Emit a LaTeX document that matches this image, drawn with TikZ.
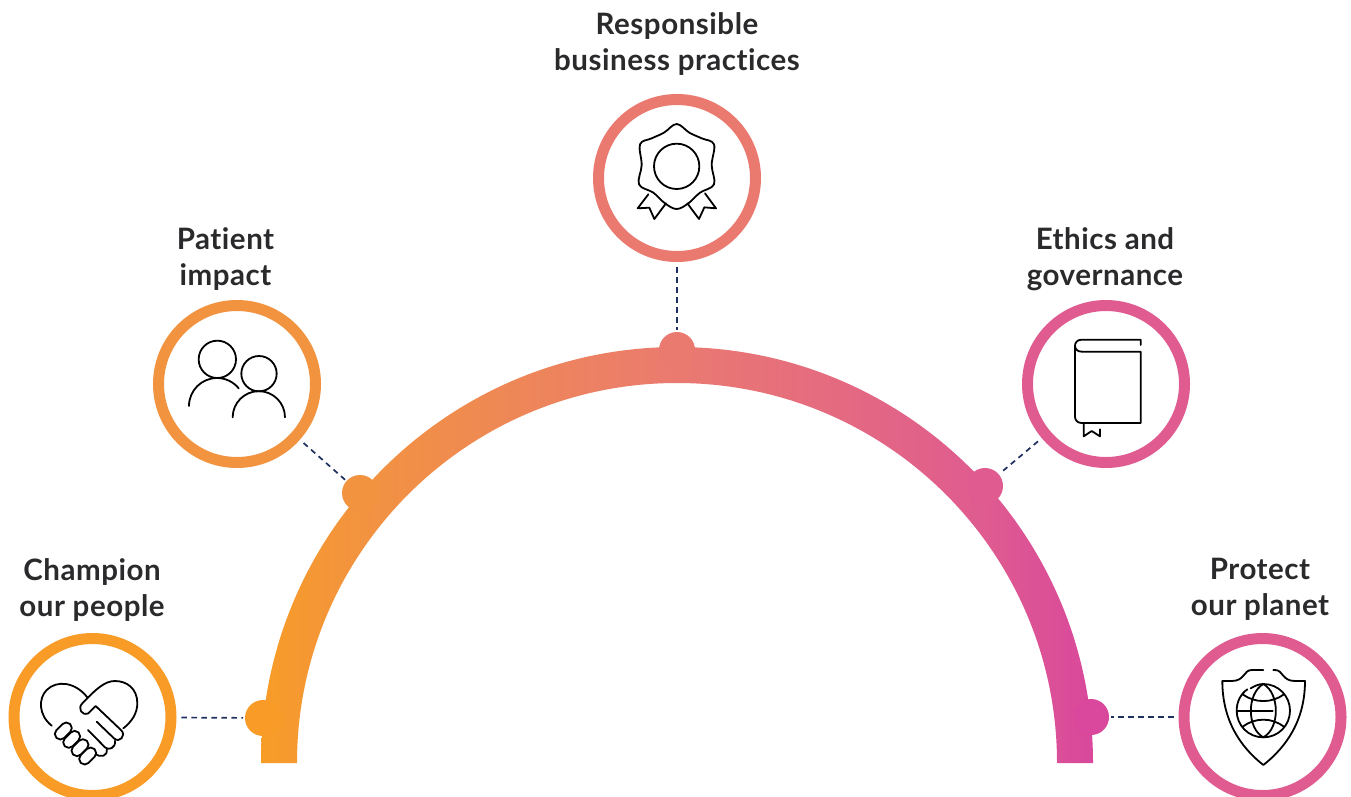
\documentclass[tikz,border=0pt]{standalone}
\usepackage{fontspec}
\setmainfont[LetterSpace=1.8,Ligatures=NoCommon]{Lato}
\tikzset{
  ring/.style={circle,draw=#1,line width=11pt,fill=white,minimum size=157pt,inner sep=0pt,outer sep=5.5pt},
  dotn/.style={circle,fill=#1,minimum size=36pt,inner sep=0pt,outer sep=0pt},
  conn/.style={draw=dashblue,line width=1.7pt,dash pattern=on 5.5pt off 4.5pt,shorten <=5pt,shorten >=2pt},
  lbl/.style={align=center,text=labelgrey,font=\fontsize{29.5}{36}\selectfont\bfseries,inner sep=0pt},
  ico/.style={draw=black,line width=1.8pt,line join=round,line cap=round}
}
\definecolor{dashblue}{HTML}{1F2F5F}
\definecolor{labelgrey}{HTML}{2A2A2C}
\definecolor{cA}{HTML}{F89C27}
\definecolor{cB}{HTML}{F29340}
\definecolor{cC}{HTML}{EA7A70}
\definecolor{cD}{HTML}{DF5B90}
\definecolor{cE}{HTML}{D9489C}
\pgfdeclarehorizontalshading{archgrad}{100bp}{color(0bp)=(cA); color(25bp)=(cA); color(31bp)=(cB); color(50bp)=(cC); color(68.5bp)=(cD); color(75bp)=(cE); color(100bp)=(cE)}
\newcommand{\capsule}[2]{\draw[ico,fill=white,rotate around={-45:(#1,#2)},rounded corners=5.3pt] (#1-29,#2-16.5) rectangle (#1+29,#2+16.5);}
\begin{document}
\begin{tikzpicture}[x=1pt,y=1pt,yscale=-1]
\useasboundingbox (0,0) rectangle (1351,796);
% arch
\shade[shading=archgrad]
  (261,763) arc[start angle=180,end angle=360,radius=416] -- (1057,763)
  arc[start angle=360,end angle=180,radius=380] -- cycle;
% dots
\node[dotn=cA] (d1) at (263,718) {};
\node[dotn=cB] (d2) at (360,493) {};
\node[dotn=cC] (d3) at (677,350) {};
\node[dotn=cD] (d4) at (985,486) {};
\node[dotn=cE] (d5) at (1091,717) {};
% rings
\node[ring=cA] (c1) at (92.5,717) {};
\node[ring=cB] (c2) at (237,384) {};
\node[ring=cC] (c3) at (677,178) {};
\node[ring=cD] (c4) at (1106,384) {};
\node[ring=cD] (c5) at (1262.5,717) {};
% connectors
\draw[conn] (c1) -- (d1);
\draw[conn] (c2) -- (d2);
\draw[conn] (c3) -- (d3);
\draw[conn] (c4) -- (d4);
\draw[conn] (c5) -- (d5);
% labels
\node[lbl] (t1) at (92,589.5) {Champion\\our people};
\node[lbl] (t2) at (225.5,259.5) {Patient\\impact};
\node[lbl] (t3) at (677,44.5) {Responsible\\business practices};
\node[lbl] (t4) at (1105,259.5) {Ethics and\\governance};
\node[lbl] (t5) at (1260,589.5) {Protect\\our planet};
% handshake
\begin{scope}[shift={(0,620)},scale=0.33333]
\draw[ico] (155,317) .. controls (115,285) and (115,235) .. (140,210) .. controls (170,180) and (225,185) .. (262,232);
\draw[ico] (370,325) .. controls (395,305) and (412,280) .. (412,250) .. controls (412,205) and (380,183) .. (345,183) .. controls (315,183) and (290,205) .. (247,250) .. controls (232,265) and (245,288) .. (265,280) -- (287,258) -- (365,332) .. controls (378,348) and (358,370) .. (342,355) -- (290,305);
\draw[ico] (345,362) .. controls (348,385) and (325,392) .. (315,382) -- (264,330);
\draw[ico] (320,385) .. controls (325,410) and (300,415) .. (285,400);
\capsule{190}{333}
\capsule{215}{358}
\capsule{240}{383}
\capsule{263}{408}
\end{scope}
% shield and globe
\begin{scope}[shift={(1060,620)},scale=0.33333]
\draw[ico] (610,150) -- (575,150) .. controls (550,150) and (555,183) .. (515,183) -- (487,183) .. controls (487,300) and (540,380) .. (610,435) .. controls (680,380) and (735,300) .. (735,183) -- (705,183) .. controls (665,183) and (670,150) .. (645,150) -- (640,150);
\draw[ico] (572,205) .. controls (585,197) and (597,192) .. (610,192) .. controls (655,192) and (690,228) .. (690,272) .. controls (690,316) and (655,352) .. (610,352) .. controls (565,352) and (530,316) .. (530,272) .. controls (530,245) and (542,222) .. (562,208);
\draw[ico] (610,192) .. controls (560,220) and (560,325) .. (610,352) .. controls (660,325) and (660,220) .. (610,192);
\draw[ico] (530,272) -- (638,272);
\draw[ico] (548,223) .. controls (585,250) and (635,250) .. (672,223);
\draw[ico] (548,320) .. controls (585,292) and (635,292) .. (672,320);
\end{scope}
% rosette
\begin{scope}[shift={(590,90)},scale=0.33333]
\draw[ico] plot[smooth cycle,tension=0.6] coordinates {(260,102) (222,128) (185,145) (150,163) (155,225) (147,283) (190,308) (225,340) (260,357) (295,340) (330,308) (372,283) (365,225) (372,163) (335,145) (298,128)};
\draw[ico] (260,229) circle[radius=68];
\draw[ico] (175,313) -- (143,355) -- (178,353) -- (193,387) -- (228,340);
\draw[ico] (345,310) -- (378,355) -- (343,352) -- (327,387) -- (292,340);
\end{scope}
% people
\begin{scope}[shift={(150,295)},scale=0.33333]
\draw[ico] (202,193) circle[radius=56];
\draw[ico] (117,333) arc[start angle=180,end angle=321,radius=84];
\draw[ico] (327,236) circle[radius=53];
\draw[ico] (248,367) arc[start angle=180,end angle=360,radius=78.5];
\end{scope}
% book
\begin{scope}[shift={(960,295)},scale=0.33333]
\draw[ico] (542,150) -- (542,134) -- (365,134) .. controls (350,134) and (345,145) .. (345,152) .. controls (345,162) and (352,170) .. (365,170) -- (542,170) -- (542,384) -- (365,384) .. controls (352,384) and (345,375) .. (345,365) -- (345,152);
\draw[ico] (371,385) -- (371,424) -- (395,408) -- (420,424) -- (420,403);
\end{scope}
\end{tikzpicture}
\end{document}
